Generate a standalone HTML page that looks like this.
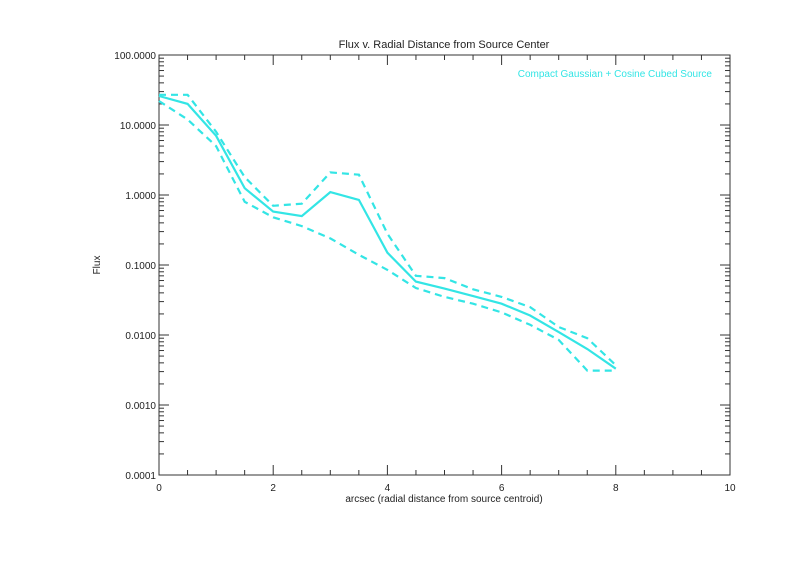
<!DOCTYPE html>
<html><head><meta charset="utf-8"><style>
html,body{margin:0;padding:0;background:#fff;}
svg{display:block;}
text{font-family:"Liberation Sans",sans-serif;font-size:10px;fill:#222;}
</style></head><body>
<svg id="s" width="800" height="565" xmlns="http://www.w3.org/2000/svg"></svg>
<script>
const L=159,R=730,T=55,B=475;
const X=v=>L+(R-L)*v/10;
const Y=v=>T+(2-Math.log10(v))*70;
let h='';
h+=`<rect x="${L}" y="${T}" width="${R-L}" height="${B-T}" fill="none" stroke="#333" stroke-width="1"/>`;
for(let i=0;i<=20;i++){const x=X(i*0.5);const len=i%4==0?10:5;
 h+=`<line x1="${x}" y1="${B}" x2="${x}" y2="${B-len}" stroke="#333"/><line x1="${x}" y1="${T}" x2="${x}" y2="${T+len}" stroke="#333"/>`;
 if(i%4==0)h+=`<text x="${x}" y="${B+16}" text-anchor="middle">${i/2}</text>`;}
const labs=['100.0000','10.0000','1.0000','0.1000','0.0100','0.0010','0.0001'];
for(let d=0;d<=6;d++){const e=2-d;const y=Y(Math.pow(10,e));
 h+=`<line x1="${L}" y1="${y}" x2="${L+10}" y2="${y}" stroke="#333"/><line x1="${R}" y1="${y}" x2="${R-10}" y2="${y}" stroke="#333"/>`;
 h+=`<text x="${L-3}" y="${y+4}" text-anchor="end">${labs[d]}</text>`;
 if(d<6)for(let m=2;m<=9;m++){const yy=Y(m*Math.pow(10,e-1));
  h+=`<line x1="${L}" y1="${yy}" x2="${L+5}" y2="${yy}" stroke="#333"/><line x1="${R}" y1="${yy}" x2="${R-5}" y2="${yy}" stroke="#333"/>`;}}
h+=`<text x="444" y="48" text-anchor="middle" style="font-size:11px">Flux v. Radial Distance from Source Center</text>`;
h+=`<text x="444" y="502" text-anchor="middle">arcsec (radial distance from source centroid)</text>`;
h+=`<text x="100" y="265" text-anchor="middle" transform="rotate(-90 100 265)">Flux</text>`;
h+=`<text x="712" y="77" text-anchor="end" style="fill:#33e5e5">Compact Gaussian + Cosine Cubed Source</text>`;
const s=[26,20,7,1.25,0.58,0.5,1.1,0.85,0.15,0.058,0.046,0.036,0.028,0.019,0.011,0.0063,0.0033];
const u=[27,27,8,1.8,0.7,0.75,2.1,1.95,0.28,0.07,0.065,0.045,0.035,0.025,0.013,0.009,0.0037];
const l=[22,12,5,0.8,0.48,0.36,0.24,0.14,0.085,0.047,0.035,0.028,0.021,0.014,0.0085,0.0031,0.0031];
const pts=a=>a.map((v,i)=>X(i*0.5).toFixed(1)+','+Y(v).toFixed(1)).join(' ');
h+=`<polyline points="${pts(s)}" fill="none" stroke="#33e5e5" stroke-width="2.2"/>`;
h+=`<polyline points="${pts(u)}" fill="none" stroke="#33e5e5" stroke-width="2.2" stroke-dasharray="7,5"/>`;
h+=`<polyline points="${pts(l)}" fill="none" stroke="#33e5e5" stroke-width="2.2" stroke-dasharray="7,5"/>`;
document.getElementById('s').innerHTML=h;
</script>
</body></html>
